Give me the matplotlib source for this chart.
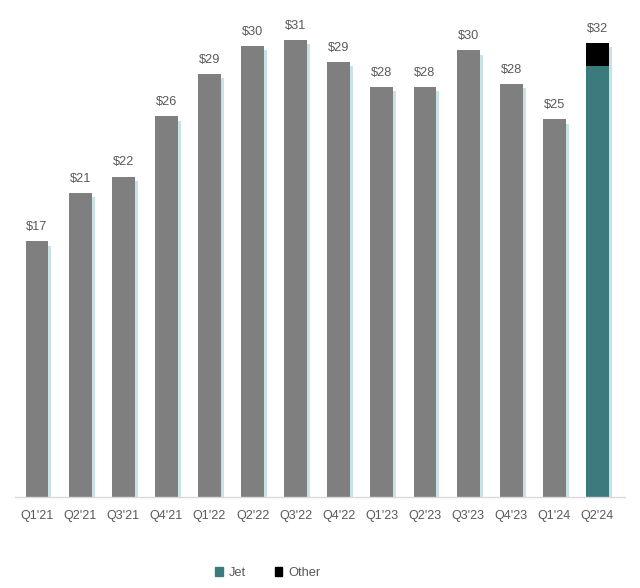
import matplotlib
matplotlib.use("Agg")
import matplotlib.pyplot as plt
from matplotlib.patches import Patch
import numpy as np

plt.rcParams['font.family'] = ['Liberation Sans', 'DejaVu Sans']

quarters = ["Q1'21", "Q2'21", "Q3'21", "Q4'21", "Q1'22", "Q2'22", "Q3'22",
            "Q4'22", "Q1'23", "Q2'23", "Q3'23", "Q4'23", "Q1'24", "Q2'24"]
# total values (gray bars for history, Jet + Other for latest quarter)
totals = [17.4, 20.7, 21.8, 25.9, 28.8, 30.7, 31.1, 29.6, 27.9, 27.9, 30.4, 28.1, 25.7, None]
jet_latest = 29.3
other_latest = 1.6
value_labels = ["$17", "$21", "$22", "$26", "$29", "$30", "$31", "$29",
                "$28", "$28", "$30", "$28", "$25", "$32"]

GRAY = "#7f7f7f"
TEAL = "#3b7b7d"
BLACK = "#000000"
SHADOW = "#c8e2e5"
TXT = "#595959"

fig = plt.figure(figsize=(6.4, 5.88), dpi=100)
ax = fig.add_axes([15/640, 91/588, 610/640, 497/588])

x = np.arange(len(quarters))
w = 0.53
hist_x = x[:-1]
hist_v = np.array(totals[:-1], dtype=float)

# soft shadow
ax.bar(hist_x + 0.07, hist_v - 0.3, width=w, color=SHADOW, zorder=1)
ax.bar([x[-1] + 0.07], [jet_latest + other_latest - 0.3], width=w, color=SHADOW, zorder=1)

ax.bar(hist_x, hist_v, width=w, color=GRAY, zorder=2)
ax.bar([x[-1]], [jet_latest], width=w, color=TEAL, zorder=2, label="Jet")
ax.bar([x[-1]], [other_latest], bottom=[jet_latest], width=w, color=BLACK, zorder=2, label="Other")

tops = list(hist_v) + [jet_latest + other_latest]
for xi, t, lab in zip(x, tops, value_labels):
    ax.text(xi, t + 0.55, lab, ha="center", va="bottom", fontsize=9.2, color=TXT)

ax.set_xlim(-0.51, 13.64)
ax.set_ylim(0, 497 / 14.7)
ax.set_xticks(x)
ax.set_xticklabels(quarters, fontsize=9.0, color=TXT,
                   family=['Liberation Sans Narrow', 'Liberation Sans'])
ax.tick_params(axis="x", length=0, pad=9)
ax.set_yticks([])
for s in ["top", "right", "left"]:
    ax.spines[s].set_visible(False)
ax.spines["bottom"].set_color("#d9d9d9")
ax.spines["bottom"].set_linewidth(1.0)

handles = [Patch(color=TEAL, label="Jet"), Patch(color=BLACK, label="Other")]
fig.legend(handles=handles, loc="center", bbox_to_anchor=(268/640, 1 - 573/588),
           ncol=2, frameon=False, fontsize=9.3, handlelength=0.6, handleheight=0.6,
           columnspacing=2.2, handletextpad=0.5, labelcolor=TXT)

fig.savefig("out.png", dpi=100)
